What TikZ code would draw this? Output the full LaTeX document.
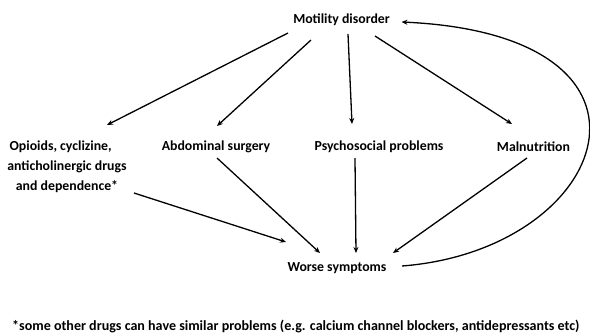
\documentclass[tikz,border=0pt]{standalone}
\usepackage{fontspec}
\setmainfont{Carlito}
\usetikzlibrary{arrows.meta}
\begin{document}
\begin{tikzpicture}[x=1pt,y=-1pt,
  lbl/.style={font=\bfseries\fontsize{13.8}{20}\selectfont, inner sep=0pt, align=center},
  conn/.style={line width=1.3pt, -{Stealth[length=6pt,width=5pt]}}]
\useasboundingbox (0,0) rectangle (590,333);
\begin{scope}
\clip (0,0) rectangle (590,333);
\node[lbl] (mot) at (341.5,20) {Motility disorder};
\node[lbl] (opi) at (67,167) {Opioids, cyclizine,\hphantom{xx}\\anticholinergic drugs\\and dependence*};
\node[lbl] (abd) at (216,147) {Abdominal surgery};
\node[lbl] (psy) at (379,147) {Psychosocial problems};
\node[lbl] (mal) at (533.5,147) {Malnutrition};
\node[lbl] (wor) at (337,268) {Worse symptoms};
\node[lbl, font=\bfseries\fontsize{14.05}{20}\selectfont, anchor=west] (note) at (12,326) {*some other drugs can have similar problems (e.g. calcium channel blockers, antidepressants etc)};

\draw[conn] ([shift={(-53.5,13)}]mot.center) -- ([shift={(40,-42)}]opi.center);
\draw[conn] ([shift={(-30.5,20)}]mot.center) -- ([shift={(1,-21)}]abd.center);
\draw[conn] ([shift={(6.5,14)}]mot.center) -- ([shift={(-27,-23)}]psy.center);
\draw[conn] ([shift={(33.5,16)}]mot.center) -- ([shift={(-21.5,-23)}]mal.center);

\draw[conn] ([shift={(67,26)}]opi.center) -- ([shift={(-51,-26)}]wor.center);
\draw[conn] ([shift={(1,11)}]abd.center) -- ([shift={(-17,-15)}]wor.center);
\draw[conn] ([shift={(-24,11)}]psy.center) -- ([shift={(19,-15)}]wor.center);
\draw[conn] ([shift={(-6.5,11)}]mal.center) -- ([shift={(56,-15)}]wor.center);

\draw[conn] ([shift={(65,-2)}]wor.center) .. controls (610,250) and (690,35) .. ([shift={(60,2)}]mot.center);
\end{scope}
\end{tikzpicture}
\end{document}
